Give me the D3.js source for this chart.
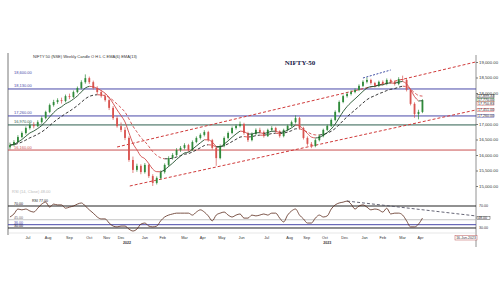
<!DOCTYPE html>
<html><head><meta charset="utf-8">
<script src="https://cdn.jsdelivr.net/npm/d3@7"></script>
<style>body{margin:0;background:#fff}svg{display:block;font-family:"Liberation Sans",Arial,sans-serif}</style>
</head><body><svg id="c" width="500" height="300"></svg>
<script>
// ---- weekly candles (O,H,L,C) ----
const opens =[16250,16320,16420,16580,16710,16870,16970,16930,17060,17190,17390,17610,17710,17770,17740,17900,17870,18030,18160,18350,18480,18350,18160,18030,17900,17770,17520,17190,16930,16810,16550,15840,15520,15650,15450,15680,15320,15100,15260,15450,15680,15900,16000,16160,16230,16320,16160,16420,16550,16650,16740,16480,16230,15900,16290,16550,16710,16870,16940,17000,16710,16480,16680,16810,16740,16610,16810,16870,16770,16610,16810,16940,17060,17190,16870,16550,16360,16290,16480,16610,16810,16940,17130,17390,17710,17900,17970,18030,18100,18230,18360,18420,18320,18230,18360,18290,18420,18360,18290,18450,18420,18100,17650,17320,17390];
const highs =[16400,16480,16640,16760,16920,17040,17060,17120,17250,17430,17660,17780,17830,17850,17950,17980,18080,18210,18410,18600,18530,18400,18220,18100,17980,17830,17580,17260,17050,16900,16600,15950,15720,15700,15740,15720,15380,15310,15500,15730,15960,16060,16220,16290,16380,16360,16470,16600,16700,16800,16780,16520,16280,16340,16600,16760,16920,16990,17080,17040,16750,16730,16860,16880,16790,16850,16930,16910,16800,16850,16980,17110,17280,17230,16910,16600,16420,16530,16660,16850,16980,17180,17440,17760,17950,18020,18090,18150,18280,18410,18500,18460,18360,18400,18410,18470,18460,18400,18510,18560,18460,18140,17700,17460,17800];
const lows  =[16180,16280,16390,16540,16660,16820,16860,16900,17010,17150,17350,17560,17650,17660,17700,17800,17840,17990,18120,18300,18290,18110,17960,17850,17720,17450,17130,16880,16740,16480,15780,15420,15460,15380,15400,15260,15000,15050,15210,15400,15630,15850,15960,16100,16180,16100,16130,16380,16500,16600,16430,16170,15650,15860,16250,16500,16670,16820,16890,16650,16420,16440,16640,16690,16560,16580,16760,16720,16560,16570,16770,16900,17020,16820,16500,16300,16220,16250,16440,16570,16770,16900,17090,17350,17670,17850,17920,17990,18060,18190,18310,18270,18180,18190,18240,18250,18300,18240,18250,18380,18050,17600,17200,17150,17350];
const closes=[16320,16420,16580,16710,16870,16970,16930,17060,17190,17390,17610,17710,17770,17740,17900,17870,18030,18160,18350,18480,18350,18160,18030,17900,17770,17520,17190,16930,16810,16550,15840,15520,15650,15450,15680,15320,15100,15260,15450,15680,15900,16000,16160,16230,16320,16160,16420,16550,16650,16740,16480,16230,15900,16290,16550,16710,16870,16940,17000,16710,16480,16680,16810,16740,16610,16810,16870,16770,16610,16810,16940,17060,17190,16870,16550,16360,16290,16480,16610,16810,16940,17130,17390,17710,17900,17970,18030,18100,18230,18360,18420,18320,18230,18360,18290,18420,18360,18290,18450,18420,18100,17650,17320,17390,17770];
// ---- RSI(14) ----
const rsiValues=[50,55.5,64.5,63,64.5,61,59,66,73.5,77,68,73.5,72,72,66,68,70,73.5,75.5,70,63,57,50,46.5,46.5,39,33.5,32,33.5,33.5,28,24.5,28,37,39,33.5,32,33.5,43,50,53.5,55.5,57,57,57,57,53.5,59,63,59,52,43,53.5,57,59,53.5,50,53.5,55.5,48,48,53.5,52,53.5,55.5,53.5,57,57,48,41,53.5,61,64.5,53.5,46.5,39,39,48,53.5,50,52,64.5,72,75.5,77,79,73.5,64.5,70,72,68,63,64.5,63,59,66,55.5,57,57,53.5,43,32,32,37,48];
// ---- axes / levels ----
const priceTicks=[15000,15500,16000,16500,17000,18000,18500,19000];
const levelValues=[18130,17260,16970,16160];
const levelLabels=["18,130.00","17,260.00","16,970.00","16,160.00"];
const highLabel="18,600.00";
const rsiLevels=[70,45,36,30];
const rsiLevelLabels=["70.00","45.00","36.00","30.00"];
const xTickIndex=[4.5,9.6,15,20,24.4,28,34,38.5,44,48.6,53.4,58.4,64.7,70.5,74.8,79.4,84.4,89.4,94,99,103.5];
const xTickLabels=["Jul","Aug","Sep","Oct","Nov","Dec","Jan","Feb","Mar","Apr","May","Jun","Jul","Aug","Sep","Oct","Dec","Jan","Feb","Mar","Apr"];
const yearIndex=[29.5,80];
const yearLabels=["2022","2023"];
// trend lines: [index, value] pairs
const upperTrend=[[27,16258],[117.4,19000]];
const lowerTrend=[[30.2,15000],[117.4,17451]];
const peakTrend=[[89,18484],[96,18742]];
const rsiTrend=[[85,79],[117.4,52]];
const dateLabel="16-Jun-2023";

const svg=d3.select("#c");
const x=d3.scaleLinear().domain([-0.5,117.5]).range([8,476]);
const y=d3.scaleLinear().domain([14710,19387]).range([195,50]);
const yr=d3.scaleLinear().domain([22.7,88.2]).range([232,196]);
const L=8,R=476;

// frame
svg.append("line").attr("x1",L).attr("x2",L).attr("y1",53).attr("y2",235).attr("stroke","#555").attr("stroke-width",0.8);
// right axis
const ax=svg.append("g").attr("transform",`translate(${R},0)`).call(d3.axisRight(y).tickValues(priceTicks).tickSize(2).tickFormat(d3.format(",.2f")));
ax.select(".domain").remove();
svg.append("line").attr("x1",R).attr("x2",R).attr("y1",55).attr("y2",247).attr("stroke","#777").attr("stroke-width",0.8);
ax.selectAll("text").attr("font-size",4.3).attr("fill","#333").attr("x",3);
ax.selectAll("line").attr("stroke","#777");

// levels
const lvlColors=["#4848a8","#4848a8","#2e5e4e","#c85050"];
levelValues.forEach((v,i)=>{
  svg.append("line").attr("x1",L).attr("x2",R).attr("y1",y(v)).attr("y2",y(v)).attr("stroke",lvlColors[i]).attr("stroke-width",1);
  svg.append("text").attr("x",14).attr("y",y(v)-1.5).attr("font-size",4).attr("fill",lvlColors[i]).text(levelLabels[i]);
});
svg.append("text").attr("x",14).attr("y",y(18600)).attr("font-size",4).attr("fill","#4848a8").text(highLabel);

// moving averages
function ema(a,n){const k=2/(n+1);const o=[];a.forEach((v,i)=>o.push(i?v*k+o[i-1]*(1-k):v));return o;}
function runs(vals,dash,up,down,w){
  const list=[];let cur=null;
  for(let i=1;i<vals.length;i++){
    const d=vals[i]>=vals[i-1];
    if(!cur||cur.d!==d){cur={d,pts:[[i-1,vals[i-1]]]};list.push(cur);}
    cur.pts.push([i,vals[i]]);
  }
  const line=d3.line().x(p=>x(p[0])).y(p=>y(p[1])).curve(d3.curveMonotoneX);
  list.forEach(r=>svg.append("path").attr("d",line(r.pts)).attr("fill","none").attr("stroke",r.d?up:down).attr("stroke-width",w).attr("stroke-dasharray",dash));
}
const emaLong=ema(closes,13), emaShort=ema(closes,6);
runs(emaLong,"3,2","#222","#d04a4a",0.9);

// trend lines
const tl=d3.line().x(p=>x(p[0])).y(p=>y(p[1]));
svg.append("path").attr("d",tl(upperTrend)).attr("stroke","#d03a3a").attr("stroke-width",1).attr("stroke-dasharray","3,2").attr("fill","none");
svg.append("path").attr("d",tl(lowerTrend)).attr("stroke","#d03a3a").attr("stroke-width",1).attr("stroke-dasharray","3,2").attr("fill","none");
svg.append("path").attr("d",tl(peakTrend)).attr("stroke","#2a3a9a").attr("stroke-width",0.9).attr("stroke-dasharray","2,1.5").attr("fill","none");

// candles
const idx=d3.range(closes.length);
const g=svg.append("g");
idx.forEach(i=>{
  const up=closes[i]>=opens[i];
  const col=up?"#2f8a3a":"#d9534f";
  g.append("line").attr("x1",x(i)).attr("x2",x(i)).attr("y1",y(highs[i])).attr("y2",y(lows[i])).attr("stroke",col).attr("stroke-width",0.7);
  const t=y(Math.max(opens[i],closes[i])),b=y(Math.min(opens[i],closes[i]));
  g.append("rect").attr("x",x(i)-0.9).attr("width",1.8).attr("y",t).attr("height",Math.max(0.6,b-t)).attr("fill",col);
});
runs(emaShort,null,"#1f4f2a","#d04a4a",0.9);

// title & legend
svg.append("text").attr("x",300).attr("y",65).attr("text-anchor","middle").attr("font-size",7).attr("font-weight","bold").attr("font-family","Liberation Serif,serif").attr("fill","#1a1a4a").text("NIFTY-50");
svg.append("text").attr("x",33).attr("y",57.5).attr("font-size",4).attr("fill","#333").text("NIFTY 50 (NSE)  Weekly  Candle  O H L C  EMA(6)  EMA(13)");

// right boxed value labels
const boxes=[[closes[closes.length-1],"#2f8a3a"],[emaShort[emaShort.length-1],"#d04a4a"],[lowerTrend[1][1],"#d03a3a"],[emaLong[emaLong.length-1],"#222"],[levelValues[1],"#4848a8"]];
let lastY=-99;
boxes.sort((a,b)=>b[0]-a[0]).forEach(([v,c])=>{
  let yy=Math.max(y(v),lastY+3.3);lastY=yy;
  svg.append("rect").attr("x",R+1).attr("y",yy-1.7).attr("width",17).attr("height",3.4).attr("fill","#fff").attr("stroke",c).attr("stroke-width",0.4);
  svg.append("text").attr("x",R+2).attr("y",yy+1.3).attr("font-size",3.6).attr("fill","#222").text(d3.format(",.2f")(v));
});

// RSI panel
svg.append("text").attr("x",12).attr("y",193).attr("font-size",4).attr("fill","#bbb").text("RSI (14, Close)  "+rsiValues[rsiValues.length-1].toFixed(2));
const rsiCols=["#222","#aaa","#4848a8","#222"];
rsiLevels.forEach((v,i)=>{
  svg.append("line").attr("x1",L).attr("x2",R).attr("y1",yr(v)).attr("y2",yr(v)).attr("stroke",rsiCols[i]).attr("stroke-width",i===1?0.7:1);
  svg.append("text").attr("x",14).attr("y",yr(v)-0.8).attr("font-size",3.6).attr("fill",rsiCols[i]==="#aaa"?"#666":rsiCols[i]).text(rsiLevelLabels[i]);
});
svg.append("path").attr("d",d3.line().x(p=>x(p[0])).y(p=>yr(p[1]))(rsiTrend)).attr("stroke","#556").attr("stroke-width",0.9).attr("stroke-dasharray","3,2").attr("fill","none");
svg.append("path").attr("d",d3.line().x((d,i)=>x(i)).y(d=>yr(d)).curve(d3.curveMonotoneX)(rsiValues)).attr("fill","none").attr("stroke","#5a2a1a").attr("stroke-width",0.8);
svg.append("text").attr("x",32).attr("y",202).attr("font-size",3.6).attr("fill","#222").text("RSI  77.00");
[70,30].forEach(v=>svg.append("text").attr("x",R+3).attr("y",yr(v)+1.3).attr("font-size",3.6).attr("fill","#333").text(v.toFixed(2)));
const lr=rsiValues[rsiValues.length-1];
svg.append("rect").attr("x",R+1).attr("y",yr(lr)-1.7).attr("width",13).attr("height",3.4).attr("fill","#fff").attr("stroke","#222").attr("stroke-width",0.4);
svg.append("text").attr("x",R+2).attr("y",yr(lr)+1.3).attr("font-size",3.6).attr("fill","#222").text(lr.toFixed(2));

// x axis labels
svg.append("line").attr("x1",L).attr("x2",R).attr("y1",233).attr("y2",233).attr("stroke","#ccc").attr("stroke-width",0.5);
xTickIndex.forEach((t,i)=>svg.append("text").attr("x",x(t)).attr("y",239).attr("text-anchor","middle").attr("font-size",3.8).attr("fill","#333").text(xTickLabels[i]));
yearIndex.forEach((t,i)=>svg.append("text").attr("x",x(t)).attr("y",244).attr("text-anchor","middle").attr("font-size",3.6).attr("font-weight","bold").attr("fill","#333").text(yearLabels[i]));
svg.append("rect").attr("x",455).attr("y",235.5).attr("width",22).attr("height",4.5).attr("fill","#fff").attr("stroke","#b55").attr("stroke-width",0.5);
svg.append("text").attr("x",466).attr("y",239).attr("text-anchor","middle").attr("font-size",3.5).attr("fill","#333").text(dateLabel);
</script></body></html>
